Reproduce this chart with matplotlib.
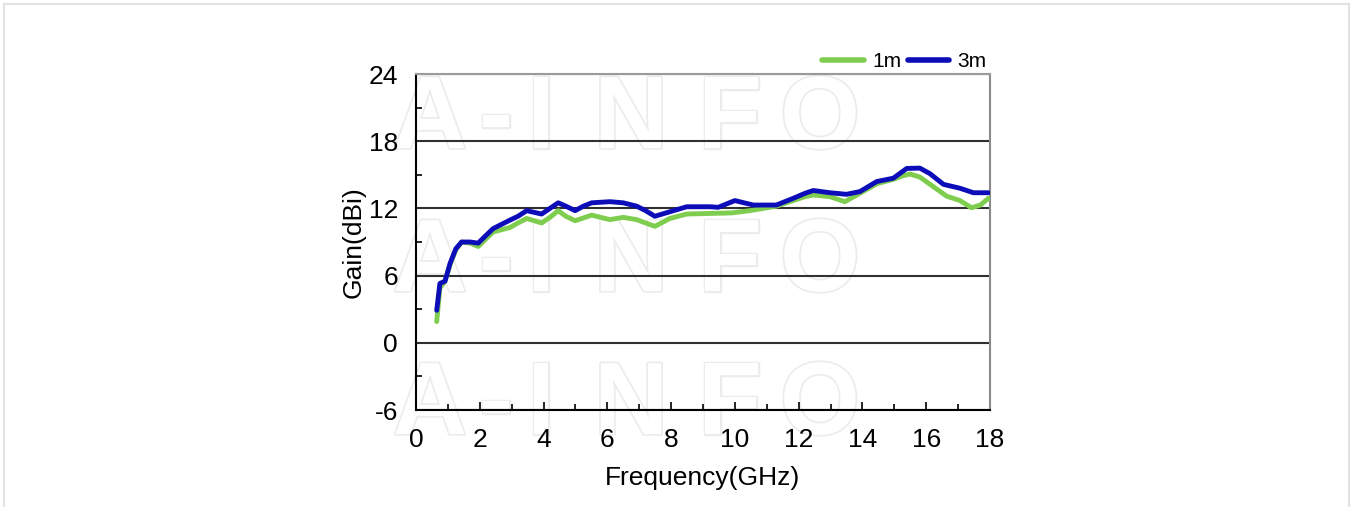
import matplotlib
matplotlib.use("Agg")
import matplotlib.pyplot as plt
import matplotlib.patheffects as pe
from matplotlib.lines import Line2D
from matplotlib.ticker import MultipleLocator

plt.rcParams['font.family'] = ['Liberation Sans', 'DejaVu Sans']
plt.rcParams['axes.unicode_minus'] = False

# -------------------------------
# Data
# -------------------------------
freq_1m = [0.65, 0.75, 0.91, 1.07, 1.25, 1.43, 1.70, 1.95, 2.20, 2.42, 2.95, 3.20,
           3.47, 3.94, 4.20, 4.46, 4.70, 4.99, 5.51, 6.08, 6.50, 6.92, 7.20, 7.49,
           7.96, 8.49, 9.22, 9.90, 10.47, 11.30, 11.83, 12.20, 12.46, 12.98, 13.45,
           13.92, 14.45, 14.97, 15.25, 15.49, 15.80, 16.22, 16.64, 17.06, 17.42,
           17.70, 17.95]
gain_1m = [1.9, 4.9, 5.5, 7.0, 8.3, 9.0, 8.9, 8.6, 9.3, 9.9, 10.3, 10.7,
           11.1, 10.7, 11.2, 11.8, 11.3, 10.9, 11.4, 11.0, 11.2, 11.0, 10.7, 10.4,
           11.1, 11.5, 11.55, 11.6, 11.8, 12.2, 12.7, 13.05, 13.2, 13.05, 12.6,
           13.35, 14.2, 14.6, 14.9, 15.07, 14.8, 13.95, 13.1, 12.7, 12.06,
           12.3, 12.9]

freq_3m = [0.65, 0.75, 0.91, 1.07, 1.25, 1.43, 1.70, 1.95, 2.20, 2.42, 2.95, 3.20,
           3.47, 3.94, 4.20, 4.46, 4.70, 4.99, 5.25, 5.51, 6.08, 6.50, 6.92, 7.20,
           7.49, 7.96, 8.49, 9.22, 9.48, 10.00, 10.58, 11.30, 11.83, 12.20, 12.46,
           12.98, 13.50, 13.92, 14.45, 14.97, 15.39, 15.80, 16.12, 16.54, 17.06,
           17.48, 17.95]
gain_3m = [2.9, 5.3, 5.5, 7.1, 8.4, 9.0, 9.0, 8.9, 9.6, 10.2, 10.96, 11.3,
           11.8, 11.5, 12.0, 12.5, 12.2, 11.8, 12.2, 12.5, 12.6, 12.5, 12.2, 11.8,
           11.3, 11.7, 12.15, 12.15, 12.1, 12.7, 12.3, 12.3, 12.9, 13.35, 13.6,
           13.4, 13.26, 13.5, 14.4, 14.7, 15.57, 15.6, 15.1, 14.15, 13.8,
           13.4, 13.4]

x_ticks = [0, 2, 4, 6, 8, 10, 12, 14, 16, 18]
y_ticks = [-6, 0, 6, 12, 18, 24]

# -------------------------------
# Figure
# -------------------------------
fig = plt.figure(figsize=(13.55, 5.07), dpi=100)
ax = fig.add_axes([0.307, 0.1913, 0.4236, 0.6627])
ax.set_facecolor('none')

# faint outlined watermark behind the axes
letters = ['A', '-', 'I', 'N', 'F', 'O']
letter_x = [430, 496, 541, 631, 730, 820]
for row_y in [121.5, 264.5, 407.5]:
    for ch, lx in zip(letters, letter_x):
        fig.text(lx / 1355, 1 - row_y / 507, ch, fontsize=74, fontweight='bold',
                 color='white', ha='center', va='center', zorder=-5,
                 path_effects=[pe.withStroke(linewidth=2.5, foreground='#ececec')])

# image border
for xs, ys in [([4, 4], [4, 507]), ([4, 1349], [4, 4]), ([1349, 1349], [4, 507])]:
    fig.add_artist(Line2D([v / 1355 for v in xs], [1 - v / 507 for v in ys],
                          color='#e2e2e2', linewidth=1.5, zorder=-10))

ax.plot(freq_1m, gain_1m, color='#7fcd4f', linewidth=3.5,
        solid_joinstyle='round', solid_capstyle='round', label='1m', zorder=3)
ax.plot(freq_3m, gain_3m, color='#0c0cb8', linewidth=3.5,
        solid_joinstyle='round', solid_capstyle='round', label='3m', zorder=4)

ax.set_xlim(0, 18)
ax.set_ylim(-6, 24)
ax.set_xticks(x_ticks)
ax.set_yticks(y_ticks)
ax.xaxis.set_minor_locator(MultipleLocator(1))
ax.yaxis.set_minor_locator(MultipleLocator(3))

ax.grid(axis='y', which='major', color='#303030', linewidth=1.5)
ax.set_axisbelow(True)

ax.tick_params(axis='x', which='major', direction='in', length=6, width=1.2,
               labelsize=19, pad=13)
ax.tick_params(axis='x', which='minor', direction='in', length=4.5, width=1.2)
ax.tick_params(axis='y', which='major', direction='in', length=0,
               labelsize=19, pad=13)
ax.tick_params(axis='y', which='minor', direction='in', length=4.5, width=1.2)

ax.spines['left'].set_color('black')
ax.spines['bottom'].set_color('black')
ax.spines['top'].set_color('#9a9a9a')
ax.spines['right'].set_color('#8a8a8a')
for s in ax.spines.values():
    s.set_linewidth(1.5)

ax.set_xlabel('Frequency(GHz)', fontsize=19, labelpad=10)
ax.set_ylabel('Gain(dBi)', fontsize=19, labelpad=2)

leg = ax.legend(loc='lower right', bbox_to_anchor=(1.0, 1.0), ncol=2, frameon=False,
                fontsize=15, handlelength=2.0, handletextpad=0.4, columnspacing=0.3,
                borderaxespad=0.0, borderpad=0.15)
for line in leg.get_lines():
    line.set_linewidth(4)

fig.savefig('out.png', dpi=100)
